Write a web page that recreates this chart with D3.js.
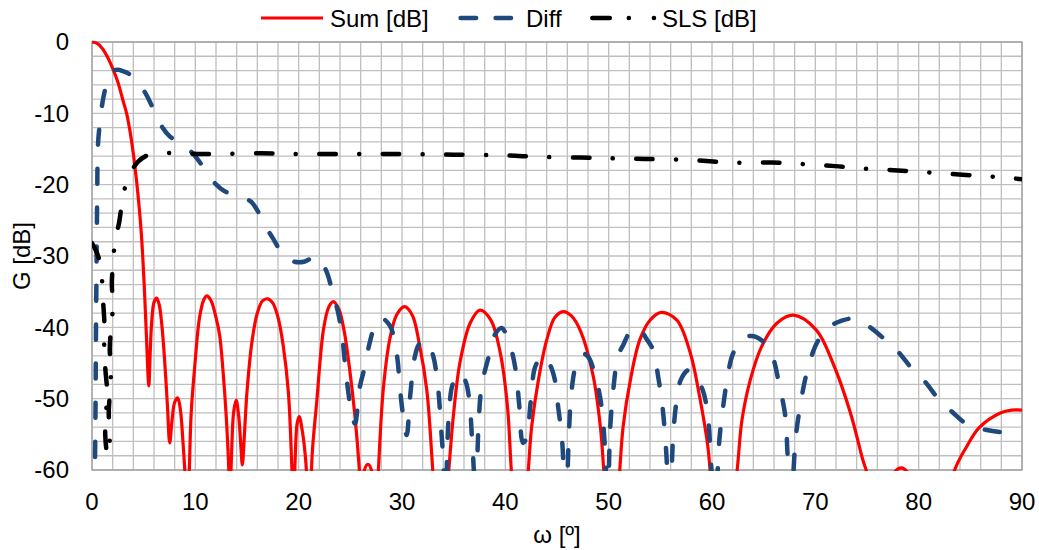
<!DOCTYPE html>
<html>
<head>
<meta charset="utf-8">
<script src="https://cdn.jsdelivr.net/npm/d3@7"></script>
<style>
  body { margin: 0; background: #fff; }
  text { font-family: "Liberation Sans", Arial, sans-serif; fill: #000; }
</style>
</head>
<body>
<div id="chart"></div>
<script>
// [angle in deg, gain in dB]
const sumPoints = [
  [0,0],[0.5,-0.2],[1,-0.9],[1.5,-2.1],[2,-3.7],[2.5,-5.6],[3,-8.2],[3.35,-10],[3.7,-12.7],[4.1,-16.8],
  [4.45,-21.4],[4.78,-27],[5.05,-34],[5.26,-41],[5.5,-48.2],[5.62,-44],[5.77,-39.4],[6.0,-36.5],[6.26,-35.9],
  [6.5,-36.8],[6.74,-39.4],[7.0,-44],[7.3,-51],[7.52,-56.2],[7.75,-53],[8.0,-50.5],[8.3,-49.9],[8.55,-51.5],
  [8.8,-56],[9.05,-62],[9.2,-70],[9.4,-61],[9.6,-52],[9.93,-45.7],[10.4,-38.7],[10.8,-36.2],[11.1,-35.6],
  [11.5,-36.2],[12.0,-38.6],[12.36,-41.2],[12.7,-46.5],[13.0,-52.7],[13.2,-58.5],[13.35,-64],[13.5,-58],
  [13.7,-52],[13.95,-50.2],[14.2,-52.5],[14.4,-56.5],[14.55,-59.3],[14.75,-55],[15.0,-49],[15.5,-41.8],
  [16.0,-38],[16.5,-36.3],[17.0,-36],[17.5,-36.6],[18.0,-38.6],[18.5,-42.5],[19.0,-49],[19.35,-60],
  [19.5,-66],[19.65,-59],[19.85,-53.5],[20.05,-52.5],[20.35,-54.5],[20.7,-59],[21.05,-70],[21.3,-58],
  [21.75,-50.4],[22.4,-40.3],[22.9,-37.2],[23.35,-36.4],[23.9,-37.5],[24.4,-40.5],[24.9,-45.5],[25.45,-52.5],
  [25.9,-60.5],[26.1,-66],[26.3,-60.3],[26.7,-59.2],[27.1,-60.3],[27.4,-70],[27.7,-60.5],[28.2,-48.5],
  [28.84,-41.5],[29.5,-38.2],[30.25,-37.1],[31.0,-38.3],[31.7,-42.5],[32.4,-48.8],[33.0,-60.5],[33.7,-75],
  [34.5,-60.5],[35.0,-52],[35.6,-45],[36.6,-39.4],[37.55,-37.6],[38.6,-39],[39.5,-43.5],[40.2,-51],
  [40.6,-60.5],[41.4,-75],[42.2,-60.5],[42.55,-53.9],[43.2,-47.4],[44.0,-41.8],[44.8,-38.6],[45.6,-37.8],
  [46.4,-38.4],[47.3,-40.6],[48.5,-46.8],[49.2,-54],[49.55,-60.5],[50.3,-75],[51.05,-60.5],[51.4,-53.9],
  [52.1,-47.4],[53.0,-41.8],[54.0,-39],[55.1,-37.9],[56.6,-39],[57.9,-43.6],[58.8,-49.7],[59.6,-56.7],
  [59.85,-60.5],[61.1,-75],[62.4,-60.5],[62.9,-53],[63.7,-47.4],[64.8,-42.7],[66.3,-39.4],[67.9,-38.3],
  [70.1,-40.4],[71.7,-45],[73.4,-52],[74.6,-58.6],[75.0,-60.5],[76.3,-75],[77.6,-60.5],[78.3,-59.7],
  [79.0,-60.5],[81.0,-75],[83.4,-60.3],[84.65,-56.7],[85.9,-54],[87.9,-52],[89.0,-51.6],[90,-51.6]
];

const diffPoints = [
  [0,-80],[0.28,-60],[0.4,-38],[0.5,-22],[0.58,-14.4],[0.74,-11.6],[0.9,-9.6],[1.1,-7.8],[1.39,-6.0],
  [1.7,-4.8],[2.1,-4.0],[2.5,-3.9],[3.0,-4.1],[3.5,-4.4],[4.13,-5.1],[5.1,-7.0],[6.07,-9.8],[6.87,-12.1],
  [7.5,-13.2],[8.3,-14],[9.6,-15.4],[10.3,-16.6],[11.06,-18.2],[12.03,-20],[12.8,-20.9],[13.8,-21.4],
  [14.6,-21.8],[15.4,-22.4],[16.0,-23.6],[16.55,-25.2],[17.5,-27.5],[18.65,-30.1],[19.6,-30.8],[20.5,-30.8],
  [21.3,-30.3],[21.9,-30.2],[22.7,-32.2],[23.35,-35.5],[23.8,-37.8],[24.2,-41.1],[24.6,-46.7],[25.1,-51.8],
  [25.45,-53.5],[25.9,-48.5],[26.4,-45.5],[26.9,-42],[27.5,-39.3],[28.0,-38.7],[28.84,-39.8],[29.5,-43.8],
  [29.8,-48.5],[30.1,-52.3],[30.45,-55.1],[30.8,-49.5],[31.26,-44],[31.7,-42.3],[32.4,-41.9],[33.0,-43.9],
  [33.5,-48.6],[33.75,-53.5],[34.0,-58.6],[34.2,-66],[34.5,-53],[34.9,-48],[35.5,-46.4],[36.1,-47.4],
  [36.5,-50],[36.75,-55],[36.95,-60],[37.1,-66],[37.4,-54],[37.7,-48.3],[38.35,-44.3],[39.0,-41],
  [39.65,-40.1],[40.45,-42.5],[41.0,-46],[41.35,-51],[41.7,-56.2],[42.05,-55.5],[42.45,-50.5],[42.9,-45.5],
  [43.6,-44],[44.3,-45.2],[44.8,-47.4],[45.1,-51],[45.5,-56],[45.85,-66],[46.15,-55],[46.4,-49],[46.9,-45],
  [47.5,-43.7],[48.0,-44.1],[48.8,-47.3],[49.3,-51],[49.6,-56],[49.9,-65],[50.15,-54],[50.5,-48],[50.9,-44],
  [51.4,-42.5],[52.0,-40.8],[52.8,-40],[53.7,-41.7],[54.3,-43.2],[54.8,-47],[55.2,-51],[55.55,-57],
  [55.9,-66],[56.25,-55],[56.6,-50],[57.0,-47.3],[57.7,-46],[58.2,-46.4],[59.1,-48.8],[59.6,-52.5],
  [59.95,-60],[60.3,-66],[60.7,-56],[61.0,-52],[61.5,-47],[62.0,-43.8],[62.9,-41.7],[63.8,-41.2],
  [64.8,-41.8],[65.8,-43.9],[66.5,-48],[67.1,-52.5],[67.3,-57.5],[67.6,-66],[68.1,-55.5],[68.5,-51.3],
  [69.0,-47.4],[69.5,-44.6],[70.3,-41.8],[71.4,-39.9],[72.5,-39.1],[73.6,-38.8],[75.0,-39.7],[76.8,-41.8],
  [78.0,-43.4],[79.3,-45.7],[80.6,-47.6],[81.9,-50],[83.2,-51.8],[84.8,-53.7],[86.6,-54.4],[88.7,-54.8],[90,-55]
];

// SLS doubles back on itself near 1-2 deg, so the order matters here
const slsPoints = [
  [0,-28.2],[0.4,-29.3],[0.75,-30.8],[0.95,-33],[1.06,-36],[1.2,-39.5],[1.18,-42.7],[1.3,-46],[1.45,-48.7],
  [1.38,-51.6],[1.28,-55],[1.45,-57.5],[1.6,-58],[1.72,-55],[1.62,-52],[1.75,-48.8],[1.85,-45.7],[1.72,-43.2],
  [1.85,-40],[2.03,-36.8],[1.92,-34],[2.03,-31],[2.25,-27.8],[2.64,-25.2],[2.94,-22.2],[3.5,-19],[4.45,-16.8],
  [5.2,-16],[6.3,-15.6],[8.5,-15.6],[10.3,-15.7],[12.5,-15.7],[16.4,-15.6],[20,-15.7],[25,-15.7],[30,-15.7],
  [35,-15.8],[40,-15.9],[43.2,-16.1],[47.2,-16.2],[50,-16.3],[53.5,-16.4],[57.5,-16.5],[61.7,-16.9],
  [65.8,-16.9],[67.9,-17.05],[71.9,-17.4],[74,-17.7],[78,-18.0],[80.1,-18.2],[84.2,-18.6],[86.3,-18.8],
  [88.4,-19.0],[90,-19.25]
];

const xTicks = [0, 10, 20, 30, 40, 50, 60, 70, 80, 90];
const yTicks = [0, -10, -20, -30, -40, -50, -60];
const seriesNames = ["Sum [dB]", "Diff", "SLS [dB]"];

const width = 1039, height = 550;
const plotLeft = 92, plotRight = 1022, plotTop = 42, plotBottom = 470;

const x = d3.scaleLinear().domain([0, 90]).range([plotLeft, plotRight]);
const y = d3.scaleLinear().domain([-60, 0]).range([plotBottom, plotTop]);

const svg = d3.select("#chart")
  .append("svg")
  .attr("width", width)
  .attr("height", height);

svg.append("defs").append("clipPath")
  .attr("id", "plotclip")
  .append("rect")
  .attr("x", plotLeft).attr("y", plotTop - 2)
  .attr("width", plotRight - plotLeft).attr("height", plotBottom - plotTop + 3);

// grid every 2 units
const grid = svg.append("g").attr("stroke", "#bfbfbf").attr("stroke-width", 1.3);
grid.selectAll("line.v")
  .data(d3.range(0, 91, 2))
  .join("line")
  .attr("class", "v")
  .attr("x1", d => x(d)).attr("x2", d => x(d))
  .attr("y1", plotTop).attr("y2", plotBottom);
grid.selectAll("line.h")
  .data(d3.range(-60, 1, 2))
  .join("line")
  .attr("class", "h")
  .attr("x1", plotLeft).attr("x2", plotRight)
  .attr("y1", d => y(d)).attr("y2", d => y(d));

svg.append("rect")
  .attr("x", plotLeft).attr("y", plotTop)
  .attr("width", plotRight - plotLeft).attr("height", plotBottom - plotTop)
  .attr("fill", "none")
  .attr("stroke", "#a6a6a6")
  .attr("stroke-width", 1.5);

// tick labels
svg.append("g")
  .attr("font-size", 24)
  .attr("text-anchor", "end")
  .selectAll("text")
  .data(yTicks)
  .join("text")
  .attr("x", 69)
  .attr("y", d => y(d))
  .attr("dy", "0.35em")
  .text(d => d);

svg.append("g")
  .attr("font-size", 24)
  .attr("text-anchor", "middle")
  .selectAll("text")
  .data(xTicks)
  .join("text")
  .attr("x", d => x(d))
  .attr("y", 510)
  .text(d => d);

svg.append("text")
  .attr("font-size", 24)
  .attr("text-anchor", "middle")
  .attr("x", 557)
  .attr("y", 543)
  .text("ω [º]");

svg.append("text")
  .attr("font-size", 24)
  .attr("text-anchor", "middle")
  .attr("transform", `translate(30,${(plotTop + plotBottom) / 2}) rotate(-90)`)
  .text("G [dB]");

// series
const line = d3.line()
  .x(d => x(d[0]))
  .y(d => y(d[1]))
  .curve(d3.curveCatmullRom.alpha(0.5));

const plot = svg.append("g").attr("clip-path", "url(#plotclip)").attr("fill", "none");

plot.append("path")
  .attr("d", line(sumPoints))
  .attr("stroke", "#ff0000")
  .attr("stroke-width", 3.2)
  .attr("stroke-linejoin", "round");

plot.append("path")
  .attr("d", line(diffPoints))
  .attr("stroke", "#1f497d")
  .attr("stroke-width", 4.5)
  .attr("stroke-linecap", "round")
  .attr("stroke-dasharray", "15,24");

plot.append("path")
  .attr("d", line(slsPoints))
  .attr("stroke", "#000")
  .attr("stroke-width", 4.5)
  .attr("stroke-linecap", "round")
  .attr("stroke-dasharray", "16.5,23.4,0.1,23.4");

// legend
const legend = svg.append("g").attr("font-size", 24);
legend.append("line")
  .attr("x1", 261).attr("x2", 323).attr("y1", 18).attr("y2", 18)
  .attr("stroke", "#ff0000").attr("stroke-width", 3.2);
legend.append("line")
  .attr("x1", 460.6).attr("x2", 511).attr("y1", 18).attr("y2", 18)
  .attr("stroke", "#1f497d").attr("stroke-width", 4.5)
  .attr("stroke-linecap", "round").attr("stroke-dasharray", "15.5,19.5");
legend.append("line")
  .attr("x1", 592.3).attr("x2", 654).attr("y1", 18).attr("y2", 18)
  .attr("stroke", "#000").attr("stroke-width", 4.5)
  .attr("stroke-linecap", "round").attr("stroke-dasharray", "17.5,19,0.1,25");
legend.selectAll("text")
  .data(seriesNames)
  .join("text")
  .attr("x", (d, i) => [330, 526, 662][i])
  .attr("y", 26.5)
  .text(d => d);
</script>
</body>
</html>
